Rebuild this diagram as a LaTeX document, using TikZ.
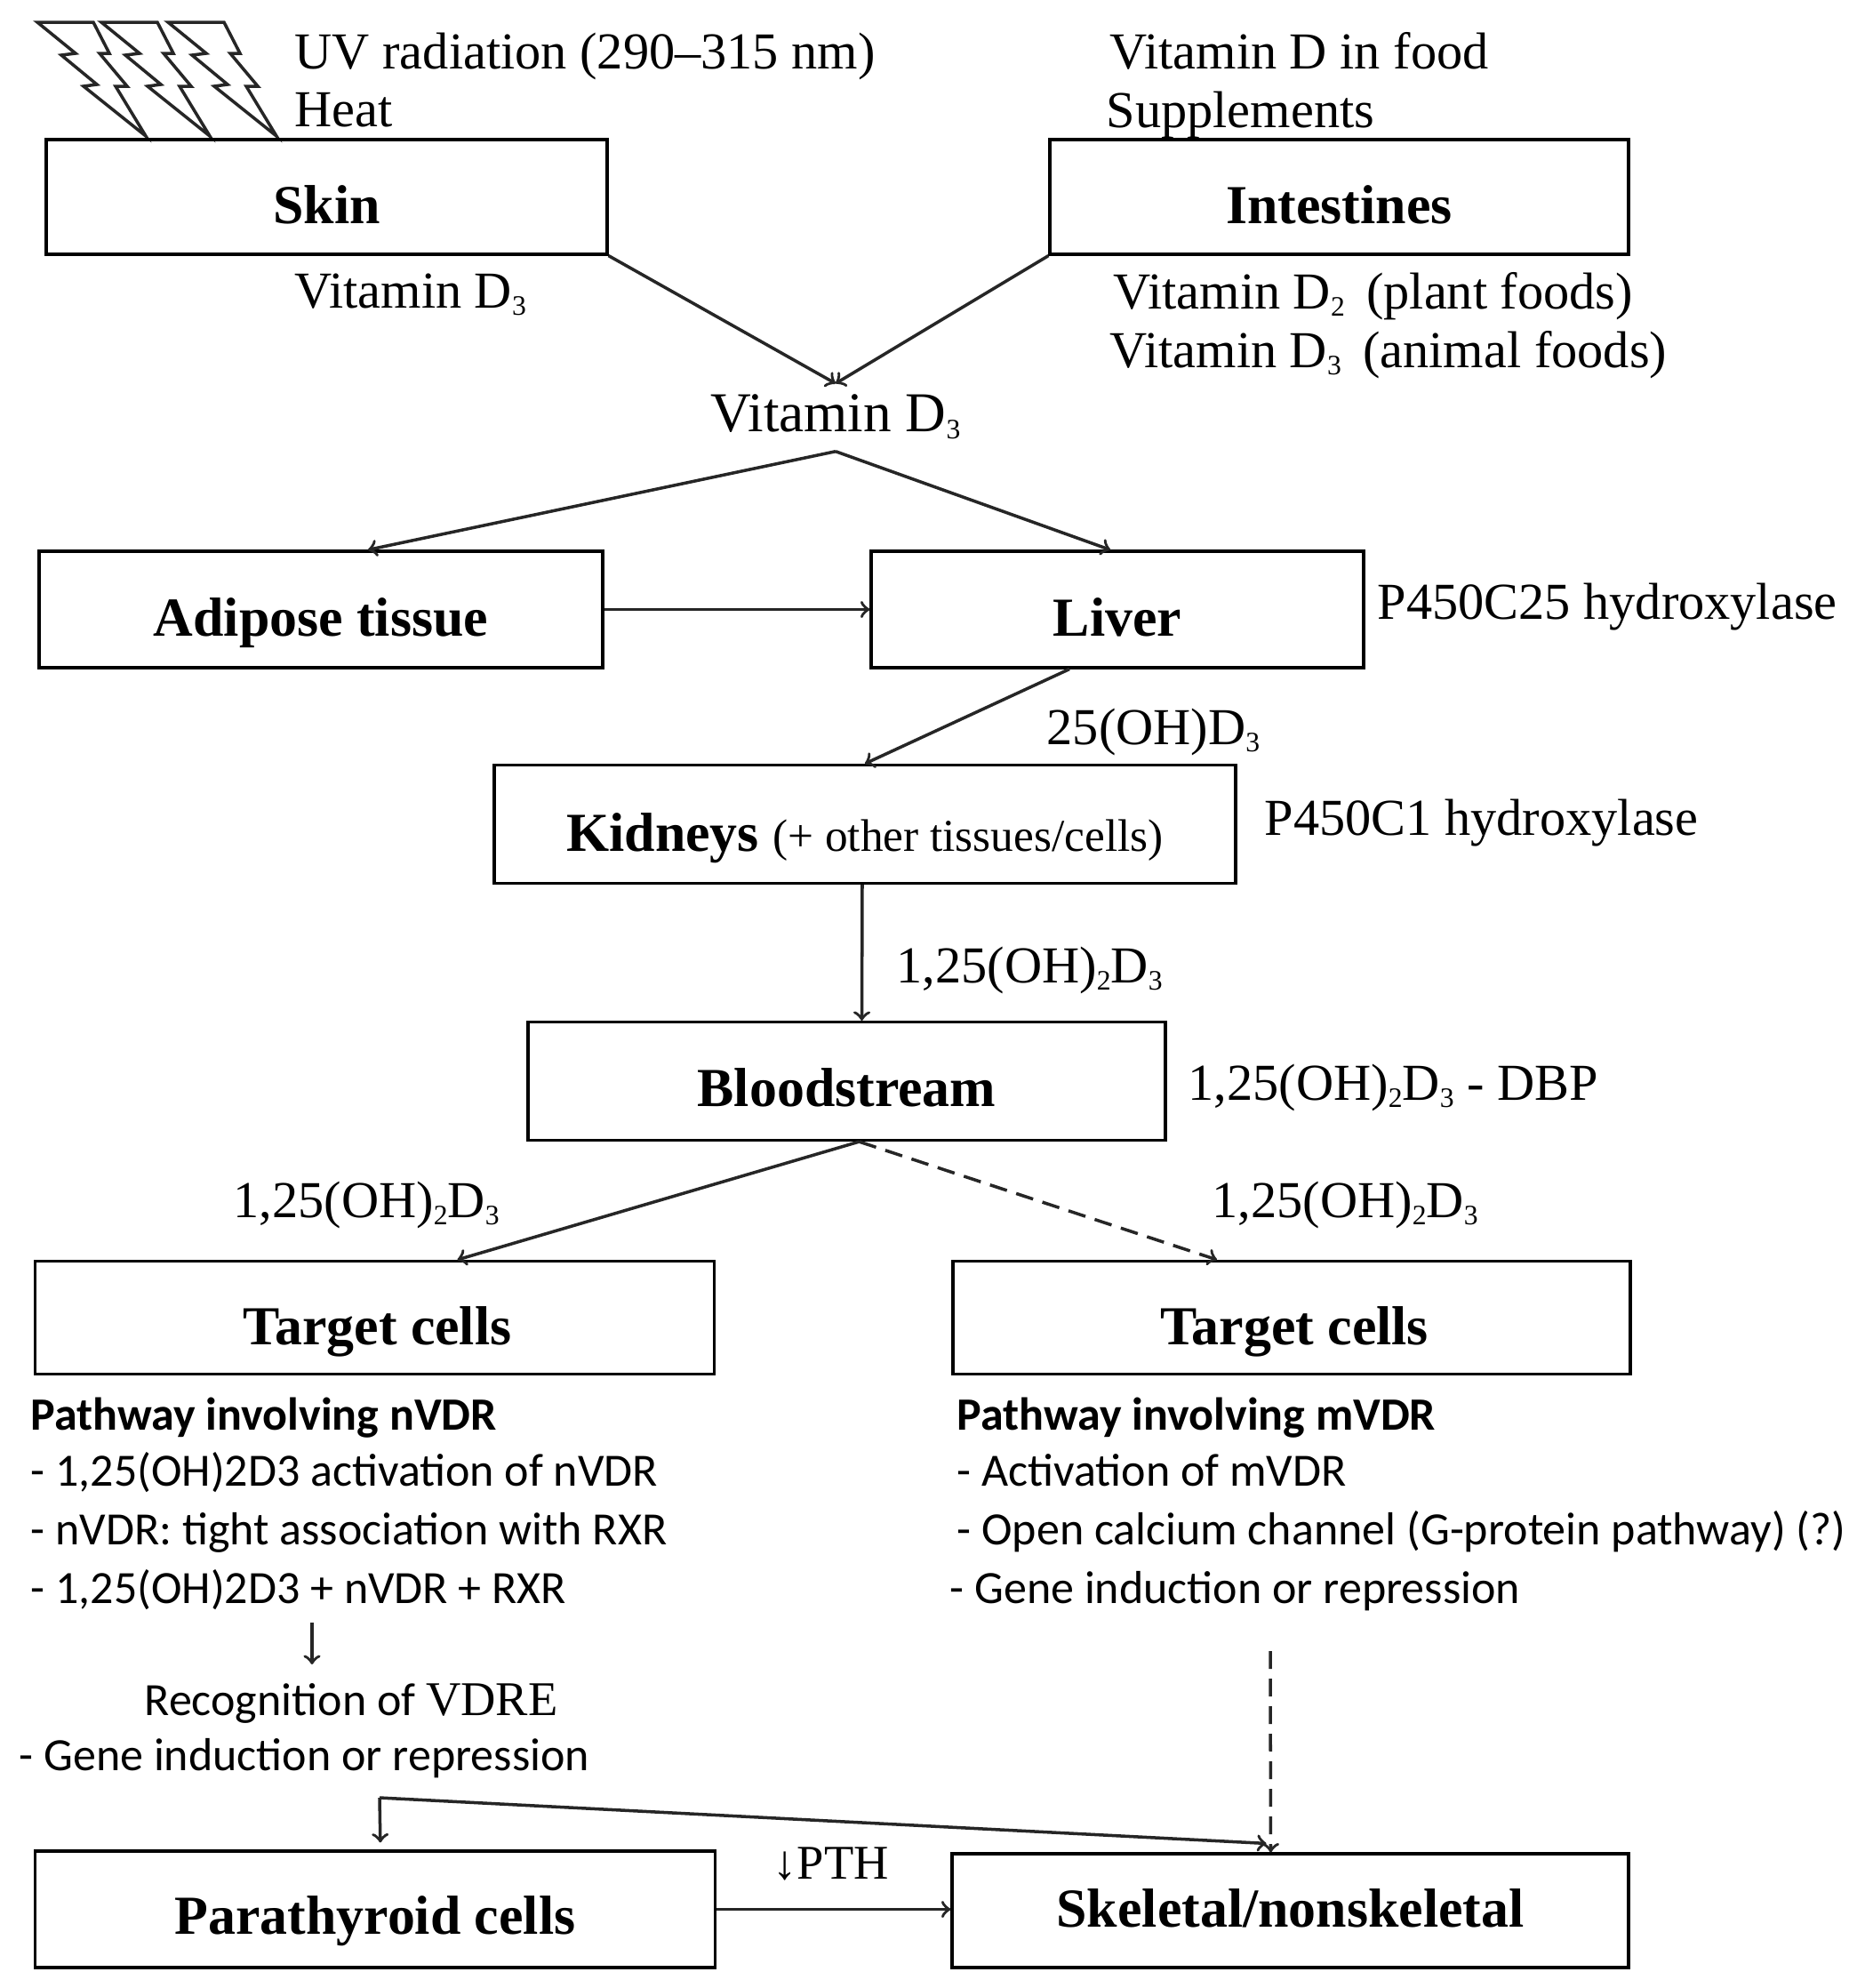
\documentclass[tikz,border=0pt]{standalone}
\usepackage{fontspec}
\setmainfont{Liberation Serif}
\setsansfont{Carlito}
\newcommand{\subs}[1]{\raisebox{-.3ex}{\fontsize{9pt}{10pt}\selectfont #1}}
\tikzset{
	boxnode/.style={draw,line width=.9pt,inner sep=0pt,font=\fontsize{17.6pt}{20pt}\selectfont\bfseries,text height=.6cm,text depth=0pt},
	lbl/.style={anchor=base west,inner sep=0pt,font=\fontsize{16.6pt}{18pt}\selectfont},
	sanslbl/.style={anchor=base west,inner sep=0pt,font=\fontsize{14.8pt}{18pt}\selectfont\sffamily},
	conn/.style={->,line width=1pt,black!85},
	dashline/.style={dash pattern=on .2cm off .11cm},
}
\begin{document}
\begin{tikzpicture}
	\useasboundingbox (0,0) rectangle (21.07,-22.36);
	% lightning
	\foreach \dx in {0,.72,1.47}
		\draw[black!85,line width=1pt,shift={(\dx,0)}] (1.64,-1.53) -- (.94,-.97) -- (1.09,-.95) -- (.69,-.62) -- (.85,-.6) -- (.42,-.25) -- (1.05,-.25) -- (1.23,-.6) -- (1.12,-.6) -- (1.43,-.97) -- (1.3,-.97) -- cycle;
	% boxes
	\node[boxnode,minimum width=6.31cm,minimum height=1.29cm] (skin) at (3.675,-2.215) {Skin};
	\node[boxnode,minimum width=6.51cm,minimum height=1.29cm] (intestines) at (15.065,-2.215) {Intestines};
	\node[boxnode,minimum width=6.34cm,minimum height=1.31cm] (adipose) at (3.61,-6.855) {Adipose tissue};
	\node[boxnode,minimum width=5.54cm,minimum height=1.31cm] (liver) at (12.57,-6.855) {Liver};
	\node[boxnode,minimum width=8.34cm,minimum height=1.33cm] (kidneys) at (9.73,-9.27) {Kidneys {\fontsize{14.6pt}{16pt}\selectfont\mdseries (+ other tissues/cells)}};
	\node[boxnode,minimum width=7.17cm,minimum height=1.33cm,text height=.56cm] (blood) at (9.525,-12.16) {Bloodstream};
	\node[boxnode,minimum width=7.64cm,minimum height=1.27cm] (targetl) at (4.215,-14.82) {\hspace{.06cm}Target cells};
	\node[boxnode,minimum width=7.62cm,minimum height=1.27cm] (targetr) at (14.53,-14.82) {\hspace{.06cm}Target cells};
	\node[boxnode,minimum width=7.65cm,minimum height=1.31cm,text height=.56cm] (parath) at (4.22,-21.475) {Parathyroid cells};
	\node[boxnode,minimum width=7.61cm,minimum height=1.28cm,text height=.36cm] (skeletal) at (14.515,-21.49) {Skeletal/nonskeletal};
	% serif labels
	\node[lbl] (uv) at (3.31,-.77) {UV radiation (290–315 nm)};
	\node[lbl] (heat) at (3.31,-1.42) {Heat};
	\node[lbl] (food) at (12.48,-.77) {Vitamin D in food};
	\node[lbl] (suppl) at (12.44,-1.43) {Supplements};
	\node[lbl] (skind) at (3.31,-3.46) {Vitamin D\subs{3}};
	\node[lbl] (plant) at (12.52,-3.47) {Vitamin D\subs{2}\, (plant foods)};
	\node[lbl] (animal) at (12.48,-4.13) {Vitamin D\subs{3}\, (animal foods)};
	\node[lbl,font=\fontsize{18pt}{20pt}\selectfont,anchor=base,inner sep=.11cm,text height=.42cm,text depth=.11cm] (vitd) at (9.4,-4.85) {Vitamin D\subs{3}};
	\node[lbl] (p25) at (15.49,-6.96) {P450C25 hydroxylase};
	\node[lbl] (oh25) at (11.77,-8.37) {25(OH)D\subs{3}};
	\node[lbl] (p1) at (14.22,-9.39) {P450C1 hydroxylase};
	\node[lbl] (oh1) at (10.08,-11.05) {1,25(OH)\subs{2}D\subs{3}};
	\node[lbl] (dbp) at (13.36,-12.37) {1,25(OH)\subs{2}D\subs{3} - DBP};
	\node[lbl] (ohl) at (2.62,-13.69) {1,25(OH)\subs{2}D\subs{3}};
	\node[lbl] (ohr) at (13.63,-13.69) {1,25(OH)\subs{2}D\subs{3}};
	\node[lbl,font=\fontsize{15.5pt}{18pt}\selectfont] (pth) at (8.69,-21.13) {↓PTH};
	% left pathway
	\node[sanslbl,font=\fontsize{14.8pt}{18pt}\selectfont\sffamily\bfseries] (headl) at (.34,-16.08) {Pathway involving nVDR};
	\node[sanslbl] (l1) at (.34,-16.71) {- 1,25(OH)2D3 activation of nVDR};
	\node[sanslbl] (l2) at (.34,-17.37) {- nVDR: tight association with RXR};
	\node[sanslbl] (l3) at (.34,-18.03) {- 1,25(OH)2D3 + nVDR + RXR};
	\node[sanslbl] (recog) at (1.62,-19.29) {Recognition of {\rmfamily\fontsize{15.5pt}{18pt}\selectfont VDRE}};
	\node[sanslbl] (l4) at (.21,-19.91) {- Gene induction or repression};
	% right pathway
	\node[sanslbl,font=\fontsize{14.8pt}{18pt}\selectfont\sffamily\bfseries] (headr) at (10.76,-16.08) {Pathway involving mVDR};
	\node[sanslbl] (r1) at (10.76,-16.71) {- Activation of mVDR};
	\node[sanslbl] (r2) at (10.76,-17.37) {- Open calcium channel (G-protein pathway) (?)};
	\node[sanslbl] (r3) at (10.68,-18.03) {- Gene induction or repression};
	% free ends
	\coordinate (fork) at (4.27,-20.22);
	\coordinate (recogtop) at (3.51,-18.25);
	\coordinate (recogend) at (3.51,-18.72);
	\coordinate (dashtop) at (14.29,-18.57);
	% connectors
	\draw[conn] (skin.south east) -- (vitd.north);
	\draw[conn] (intestines.south west) -- (vitd.north);
	\draw[conn] (vitd.south) -- ([xshift=.53cm]adipose.north);
	\draw[conn] (vitd.south) -- ([xshift=-.08cm]liver.north);
	\draw[conn] (adipose.east) -- (liver.west);
	\draw[conn] ([xshift=-.54cm]liver.south) -- (kidneys.north);
	\draw[conn] ([xshift=-.03cm]kidneys.south) -- ([xshift=.17cm]blood.north);
	\draw[conn] ([xshift=.14cm]blood.south) -- ([xshift=.93cm]targetl.north);
	\draw[conn,dashline] ([xshift=.14cm]blood.south) -- ([xshift=-.84cm]targetr.north);
	\draw[conn] (recogtop) -- (recogend);
	\draw[conn] (parath.east) -- (parath.east -| skeletal.west);
	\draw[conn,shorten >=.08cm] (fork) -- ([xshift=.06cm]parath.north);
	\draw[conn] (fork) -- ([xshift=-.27cm,yshift=.1cm]skeletal.north);
	\draw[conn,dashline] (dashtop) -- ([xshift=-.22cm]skeletal.north);
\end{tikzpicture}
\end{document}
